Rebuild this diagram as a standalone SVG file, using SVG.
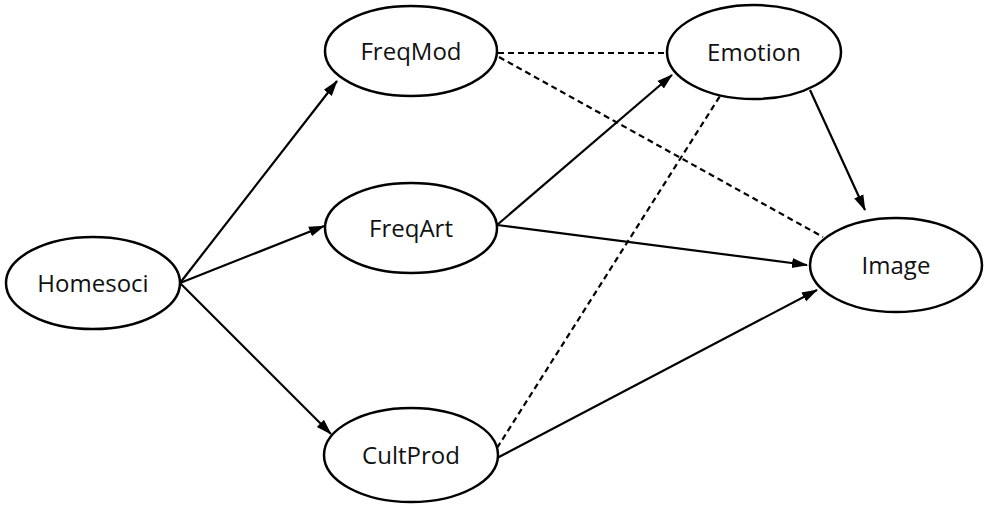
<svg xmlns="http://www.w3.org/2000/svg" width="985" height="506" viewBox="0 0 985 506">
<style>
.node ellipse{fill:#fff;stroke:#000;stroke-width:2.5}
.node text{font-family:"Open Sans","Liberation Sans",sans-serif;font-size:24px;fill:#111;text-anchor:middle}
.edge{stroke:#000;stroke-width:2.2;fill:none}
.dash{stroke-dasharray:6,4}
</style>
<defs>
<marker id="arr" markerUnits="userSpaceOnUse" markerWidth="16" markerHeight="12" refX="15" refY="5" orient="auto" viewBox="0 0 16 10">
<path d="M0,0 L16,5 L0,10 Z" fill="#000"/>
</marker>
</defs>
<rect width="985" height="506" fill="#fff"/>
<g id="connectors">
<line class="edge" x1="180" y1="283" x2="337" y2="81" marker-end="url(#arr)"/>
<line class="edge" x1="180" y1="283" x2="324" y2="226" marker-end="url(#arr)"/>
<line class="edge" x1="180" y1="283" x2="331" y2="434" marker-end="url(#arr)"/>
<line class="edge" x1="497" y1="225" x2="672" y2="75" marker-end="url(#arr)"/>
<line class="edge" x1="497" y1="225" x2="807" y2="265" marker-end="url(#arr)"/>
<line class="edge" x1="497" y1="458" x2="817" y2="290" marker-end="url(#arr)"/>
<line class="edge" x1="810" y1="90" x2="865" y2="210" marker-end="url(#arr)"/>
<line class="edge dash" x1="498" y1="53" x2="668" y2="53"/>
<line class="edge dash" x1="499" y1="57" x2="823" y2="237"/>
<line class="edge dash" x1="497" y1="448" x2="720" y2="96"/>
</g>
<g id="Homesoci" class="node"><ellipse cx="93" cy="283" rx="87" ry="46"/><text x="93" y="292">Homesoci</text></g>
<g id="FreqMod" class="node"><ellipse cx="411" cy="51" rx="86" ry="45"/><text x="411" y="60">FreqMod</text></g>
<g id="FreqArt" class="node"><ellipse cx="411" cy="228" rx="86" ry="45"/><text x="411" y="237">FreqArt</text></g>
<g id="CultProd" class="node"><ellipse cx="411" cy="455" rx="87" ry="47"/><text x="411" y="464">CultProd</text></g>
<g id="Emotion" class="node"><ellipse cx="754" cy="52" rx="87" ry="47"/><text x="754" y="61">Emotion</text></g>
<g id="Image" class="node"><ellipse cx="896" cy="265" rx="86" ry="47"/><text x="896" y="274">Image</text></g>
</svg>
